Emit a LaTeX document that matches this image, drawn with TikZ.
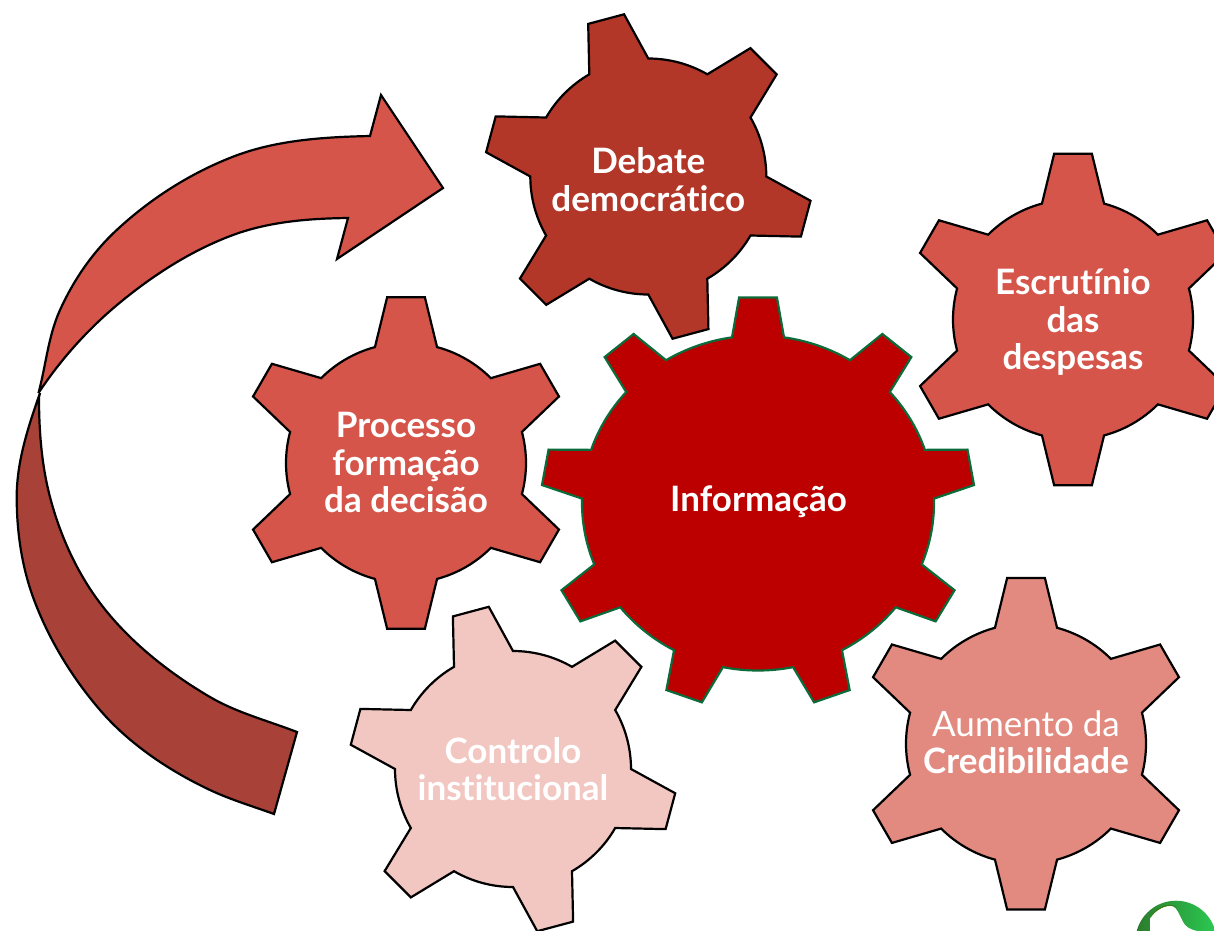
\documentclass[tikz,border=0pt]{standalone}
\usepackage{fontspec}
\setmainfont[Ligatures=NoCommon]{Lato}
\definecolor{cDebate}{HTML}{B23729}
\definecolor{cMid}{HTML}{D5554A}
\definecolor{cAum}{HTML}{E28A80}
\definecolor{cCtl}{HTML}{F2C6C1}
\definecolor{cInfo}{HTML}{BC0000}
\definecolor{cInfoLine}{HTML}{0B6B3A}
\definecolor{cArrowDark}{HTML}{A84238}
\definecolor{cLogoL}{HTML}{2C7A2C}
\definecolor{cLogoR}{HTML}{2BCB52}
\definecolor{cLogoD}{HTML}{3F7A10}
\tikzset{
  gearline/.style={draw=black,line width=2.2pt,line join=miter,miter limit=4},
  gearlabel/.style={text=white,align=center,inner sep=0pt,font=\fontsize{35}{37.5}\selectfont\bfseries},
}
% #1 style, #2 cx, #3 cy, #4 rx, #5 ry, #6 tip/root radius factor, #7 first tooth angle, #8 step, #9 count
\newcommand{\gearshape}[9]{%
  \def\tipA{6.5}\def\rootA{15}%
  \ifnum#9=9 \def\tipA{5}\def\rootA{8.5}\fi
  \draw[#1] ({#2+#4*cos(#7-\rootA)},{#3+#5*sin(#7-\rootA)})
    \foreach \k [evaluate=\k as \a using #7+(\k-1)*#8] in {1,...,#9} {
      -- ({#2+#6*#4*cos(\a-\tipA)},{#3+#6*#5*sin(\a-\tipA)})
      -- ({#2+#6*#4*cos(\a+\tipA)},{#3+#6*#5*sin(\a+\tipA)})
      -- ({#2+#4*cos(\a+\rootA)},{#3+#5*sin(\a+\rootA)})
      arc[start angle=\a+\rootA,end angle=\a+#8-\rootA,x radius=#4,y radius=#5]
    } -- cycle;
}
\begin{document}
\begin{tikzpicture}[x=1pt,y=-1pt]
\useasboundingbox (0,0) rectangle (1214,930);
\clip (0,0) rectangle (1214,930);
% arrow lower part
\draw[gearline,fill=cArrowDark] (40,393)
  .. controls (28.3,426.4) and (16.7,461.5) .. (16.7,497)
  .. controls (16.7,530.7) and (21.5,565.3) .. (33,597)
  .. controls (47.9,638) and (71.5,676.9) .. (100,710)
  .. controls (129.3,744.1) and (169.3,770.8) .. (210,790)
  .. controls (230.6,799.7) and (252.6,806.2) .. (274,814)
  -- (297,732)
  .. controls (268.2,720.8) and (236.7,712.7) .. (210,697)
  .. controls (168.6,672.7) and (128.9,641.3) .. (100,603)
  .. controls (76.5,571.9) and (59.9,534.7) .. (50,497)
  .. controls (41.5,464.6) and (39,430.5) .. (39,397)
  -- cycle;
% arrow upper part
\draw[gearline,fill=cMid] (38.5,393)
  .. controls (45.9,365.4) and (48.2,336) .. (60,310)
  .. controls (73.6,280) and (92.5,252.4) .. (116.7,230)
  .. controls (150.4,198.7) and (190,173.4) .. (233,156.7)
  .. controls (275.9,140) and (324,137) .. (370,136)
  -- (381,95) -- (443,188) -- (337,259) -- (348,218)
  .. controls (309,218.5) and (269.6,221.5) .. (233,235)
  .. controls (190.8,250.6) and (151.5,276.1) .. (117,305)
  .. controls (87.1,330) and (60,360.4) .. (38.5,393)
  -- cycle;
% gears
\gearshape{gearline,fill=cDebate}{648.3}{176.5}{118}{118}{1.39}{-105}{60}{6}
\gearshape{gearline,fill=cMid}{1073}{319.5}{120}{120}{1.39}{-90}{60}{6}
\gearshape{gearline,fill=cMid}{406}{463}{120}{120}{1.39}{-90}{60}{6}
\gearshape{gearline,fill=cCtl}{513}{769}{118}{118}{1.39}{-105}{60}{6}
\gearshape{gearline,fill=cAum}{1026}{743.7}{120}{120}{1.39}{-90}{60}{6}
\gearshape{draw=cInfoLine,line width=2.2pt,fill=cInfo}{758}{503}{176}{167.5}{1.232}{-90}{40}{9}
% labels
\node[gearlabel] (debate) at (648.3,179.5) {Debate\\democrático};
\node[gearlabel] (escrutinio) at (1073,322) {Escrutínio\\das\\despesas};
\node[gearlabel] (processo) at (406,462.5) {Processo\\formação\\da decisão};
\node[gearlabel] (informacao) at (758.5,502) {Informação};
\node[gearlabel] (controlo) at (513,769) {Controlo\\institucional};
\node[gearlabel] (aumento) at (1026,742) {{\mdseries Aumento da}\\Credibilidade};
% logo
\shade[left color=cLogoL,right color=cLogoR] (1176,941.3) circle[radius=40.6];
\fill[white] (1150,918.3) .. controls (1156,909) and (1166,905) .. (1172,906) .. controls (1178,908) and (1180,918) .. (1185,925) .. controls (1189,929) and (1193,930) .. (1197,931) -- (1150,931) -- cycle;
\fill[cLogoD] (1150,918.3) .. controls (1156,909) and (1166,905) .. (1172,906) .. controls (1175,906) and (1176,907) .. (1178,908) .. controls (1172,902) and (1156,905) .. (1150,918.3) -- cycle;
\end{tikzpicture}
\end{document}
